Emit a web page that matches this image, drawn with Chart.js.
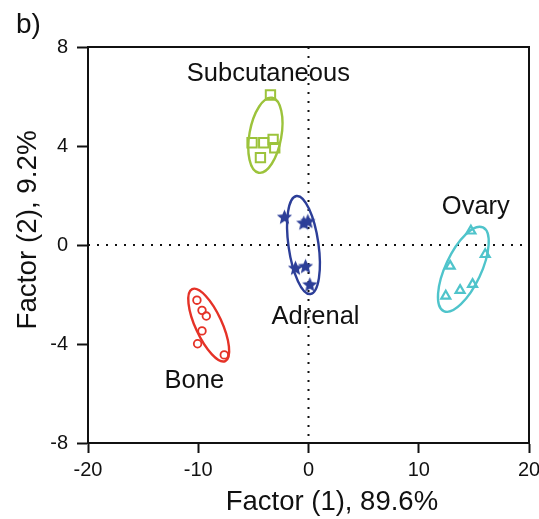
<!DOCTYPE html>
<html>
<head>
<meta charset="utf-8">
<script src="https://cdn.jsdelivr.net/npm/chart.js@4/dist/chart.umd.min.js"></script>
<style>
  html, body { margin: 0; padding: 0; background: #fff; }
  #wrap { width: 539px; height: 519px; position: relative; }
</style>
</head>
<body>
<div id="wrap"><canvas id="c" width="539" height="519"></canvas></div>
<script>
// ---- data ----
const groupNames = ["Subcutaneous", "Adrenal", "Bone", "Ovary"];

const subcutaneousX = [-3.45, -5.12, -4.06, -3.21, -3.06, -4.36];
const subcutaneousY = [6.06, 4.13, 4.13, 4.27, 3.93, 3.53];

const adrenalX = [-2.18, -0.43, -0.06, -1.18, -0.27, 0.12];
const adrenalY = [1.14, 0.90, 0.97, -0.92, -0.85, -1.59];

const boneX = [-10.12, -9.66, -9.27, -9.66, -10.06, -7.64];
const boneY = [-2.23, -2.64, -2.87, -3.47, -3.99, -4.44];

const ovaryX = [14.73, 16.03, 12.85, 12.45, 13.75, 14.88];
const ovaryY = [0.57, -0.38, -0.85, -2.06, -1.83, -1.59];

// ellipse: major-axis end points (data units) and semi-minor axis (x data units)
const ellipseTopX = [-3.30, -1.09, -10.55, 15.82];
const ellipseTopY = [5.95, 1.98, -1.78, 0.71];
const ellipseBottomX = [-4.52, 0.18, -7.55, 12.27];
const ellipseBottomY = [2.92, -1.98, -4.69, -2.67];
const ellipseMinor = [1.45, 1.36, 1.2, 1.62];

// group label anchors (data units)
const labelX = [-3.64, 0.64, -10.36, 15.18];
const labelY = [6.91, -2.91, -5.49, 1.54];

const xTicks = [-20, -10, 0, 10, 20];
const yTicks = [-8, -4, 0, 4, 8];

const xTitle = "Factor (1), 89.6%";
const yTitle = "Factor (2), 9.2%";
const panelLabel = "b)";

// ---- styles ----
const colors = ["#9CC33B", "#2C3E98", "#E53227", "#4FC4CB"];
const FONT = "'Liberation Sans', Arial, Helvetica, sans-serif";

function zip(xs, ys) { return xs.map((x, i) => ({ x: x, y: ys[i] })); }

// filled five-point star image for pointStyle
function makeStar(color, size) {
  const cv = document.createElement('canvas');
  cv.width = size; cv.height = size;
  const c = cv.getContext('2d');
  const cx = size / 2, cy = size / 2 + 0.7;
  const R = size / 2 - 0.5, r = R * 0.45;
  c.beginPath();
  for (let i = 0; i < 10; i++) {
    const ang = -Math.PI / 2 + i * Math.PI / 5;
    const rad = i % 2 === 0 ? R : r;
    const px = cx + Math.cos(ang) * rad, py = cy + Math.sin(ang) * rad;
    if (i === 0) c.moveTo(px, py); else c.lineTo(px, py);
  }
  c.closePath();
  c.fillStyle = color;
  c.fill();
  return cv;
}
const starImg = makeStar(colors[1], 17);

const overlay = {
  id: 'overlay',
  beforeDatasetsDraw(chart) {
    const { ctx, chartArea: a, scales: { x, y } } = chart;
    ctx.save();
    ctx.strokeStyle = '#111';
    ctx.lineWidth = 2;
    ctx.setLineDash([2, 7]);
    const x0 = x.getPixelForValue(0), y0 = y.getPixelForValue(0);
    ctx.beginPath();
    ctx.moveTo(x0, a.top); ctx.lineTo(x0, a.bottom);
    ctx.moveTo(a.left, y0); ctx.lineTo(a.right, y0);
    ctx.stroke();
    ctx.setLineDash([]);
    ctx.lineWidth = 2;
    ctx.strokeRect(a.left, a.top, a.right - a.left, a.bottom - a.top);
    ctx.restore();
  },
  afterDatasetsDraw(chart) {
    const { ctx, chartArea: a, scales: { x, y } } = chart;
    ctx.save();
    for (let i = 0; i < groupNames.length; i++) {
      const tx = x.getPixelForValue(ellipseTopX[i]), ty = y.getPixelForValue(ellipseTopY[i]);
      const bx = x.getPixelForValue(ellipseBottomX[i]), by = y.getPixelForValue(ellipseBottomY[i]);
      const cx = (tx + bx) / 2, cy = (ty + by) / 2;
      const semiMajor = Math.hypot(tx - bx, ty - by) / 2;
      const semiMinor = Math.abs(x.getPixelForValue(ellipseMinor[i]) - x.getPixelForValue(0));
      const rot = Math.atan2(ty - by, tx - bx);
      ctx.beginPath();
      ctx.ellipse(cx, cy, semiMajor, semiMinor, rot, 0, Math.PI * 2);
      ctx.strokeStyle = colors[i];
      ctx.lineWidth = 2.4;
      ctx.stroke();
    }
    ctx.fillStyle = '#111';
    ctx.font = '25.5px ' + FONT;
    ctx.textAlign = 'center';
    ctx.textBaseline = 'middle';
    for (let i = 0; i < groupNames.length; i++) {
      ctx.fillText(groupNames[i], x.getPixelForValue(labelX[i]), y.getPixelForValue(labelY[i]));
    }
    // axis titles (offset as in the reference)
    ctx.font = '27.5px ' + FONT;
    ctx.fillText(xTitle, a.left + (a.right - a.left) * 0.553, a.bottom + 59);
    ctx.save();
    ctx.translate(28, a.top + (a.bottom - a.top) * 0.462);
    ctx.rotate(-Math.PI / 2);
    ctx.font = '27.8px ' + FONT;
    ctx.fillText(yTitle, 0, 0);
    ctx.restore();
    // panel label
    ctx.font = '28px ' + FONT;
    ctx.textAlign = 'left';
    ctx.textBaseline = 'alphabetic';
    ctx.fillText(panelLabel, 16, 33);
    ctx.restore();
  }
};

new Chart(document.getElementById('c'), {
  type: 'scatter',
  data: {
    datasets: [
      { label: groupNames[0], data: zip(subcutaneousX, subcutaneousY), pointStyle: 'rect',
        pointRadius: 6.6, pointBorderWidth: 2, borderColor: colors[0], backgroundColor: 'rgba(255,255,255,0)' },
      { label: groupNames[1], data: zip(adrenalX, adrenalY), pointStyle: starImg,
        pointRadius: 8, borderColor: colors[1], backgroundColor: colors[1] },
      { label: groupNames[2], data: zip(boneX, boneY), pointStyle: 'circle',
        pointRadius: 3.8, pointBorderWidth: 1.8, borderColor: colors[2], backgroundColor: 'rgba(255,255,255,0)' },
      { label: groupNames[3], data: zip(ovaryX, ovaryY), pointStyle: 'triangle',
        pointRadius: 5.2, pointBorderWidth: 2.2, borderColor: colors[3], backgroundColor: 'rgba(255,255,255,0)' }
    ]
  },
  options: {
    responsive: false,
    animation: false,
    devicePixelRatio: 1,
    layout: { padding: { left: 0, top: 47, right: 10, bottom: 0 } },
    plugins: { legend: { display: false }, tooltip: { enabled: false } },
    scales: {
      x: {
        type: 'linear', min: -20, max: 20,
        afterBuildTicks(s) { s.ticks = xTicks.map(v => ({ value: v })); },
        afterFit(s) { s.height = 76; s.paddingLeft = 0; s.paddingRight = 0; },
        ticks: { color: '#111', font: { family: FONT, size: 20 }, padding: 5, maxRotation: 0 },
        grid: { drawOnChartArea: false, drawTicks: true, tickLength: 10, tickWidth: 2, tickColor: '#111' },
        border: { display: true, color: '#111', width: 2 },
        title: { display: false }
      },
      y: {
        type: 'linear', min: -8, max: 8,
        afterBuildTicks(s) { s.ticks = yTicks.map(v => ({ value: v })); },
        afterFit(s) { s.width = 88; s.paddingTop = 0; s.paddingBottom = 0; },
        ticks: { color: '#111', font: { family: FONT, size: 20 }, padding: 9 },
        grid: { drawOnChartArea: false, drawTicks: true, tickLength: 11, tickWidth: 2, tickColor: '#111' },
        border: { display: true, color: '#111', width: 2 },
        title: { display: false }
      }
    }
  },
  plugins: [overlay]
});
</script>
</body>
</html>
